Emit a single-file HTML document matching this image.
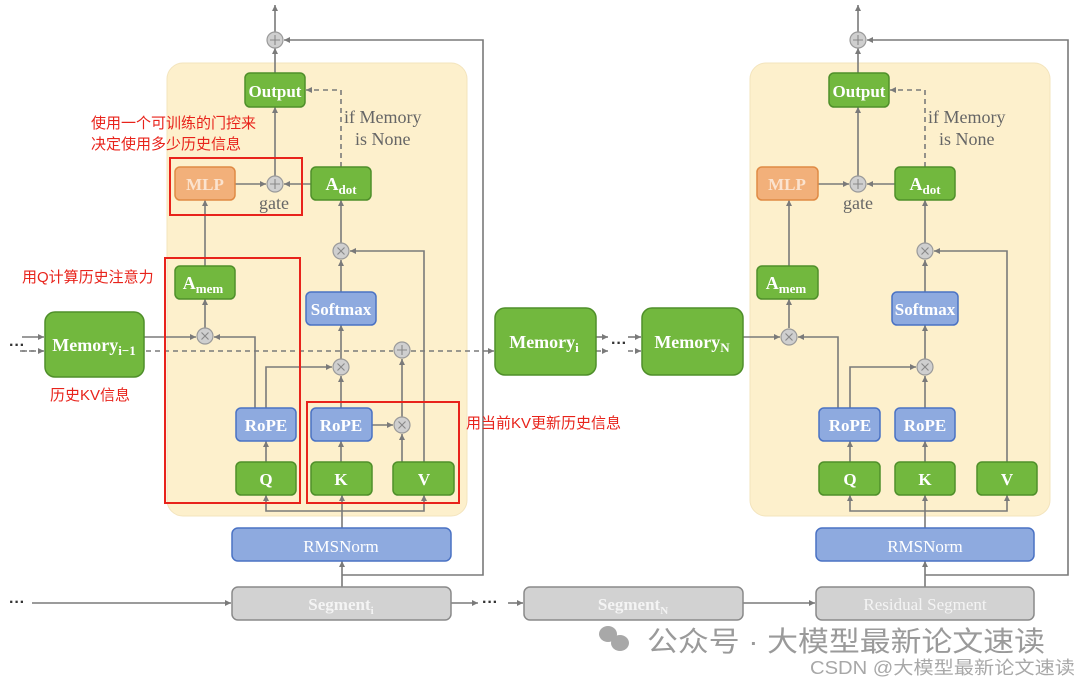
<!DOCTYPE html>
<html><head><meta charset="utf-8"><style>
body{margin:0;background:#fff}
svg{display:block}
.t{font-family:"Liberation Serif",serif;font-weight:bold;fill:#fff;text-anchor:middle}
.g{font-family:"Liberation Serif",serif;fill:#666;font-size:18px}
.r{font-family:"Liberation Sans","Noto Sans CJK SC",sans-serif;fill:#e8231b;font-size:15px}
.ln{stroke:#7a7a7a;stroke-width:1.6;fill:none}
.dl{stroke:#7a7a7a;stroke-width:1.6;fill:none;stroke-dasharray:5 4}
.op{fill:#cfcfcf;stroke:#9a9a9a;stroke-width:1.2}
.ot{stroke:#888;stroke-width:1.1}
</style></head><body>
<svg width="1080" height="685" viewBox="0 0 1080 685" xmlns="http://www.w3.org/2000/svg">
<defs>
<marker id="a" markerWidth="8" markerHeight="8" refX="6" refY="3" orient="auto" markerUnits="userSpaceOnUse"><path d="M0,0 L6,3 L0,6 z" fill="#7a7a7a"/></marker>
<g id="plus"><circle r="8" class="op"/><path d="M-5,0H5M0,-5V5" class="ot"/></g>
<g id="times"><circle r="8" class="op"/><path d="M-3.5,-3.5L3.5,3.5M3.5,-3.5L-3.5,3.5" class="ot"/></g>
</defs>

<rect x="167" y="63" width="300" height="453" rx="16" fill="#fdf0cc" stroke="#f3e4bd"/>
<rect x="750" y="63" width="300" height="453" rx="16" fill="#fdf0cc" stroke="#f3e4bd"/>

<g>
<path d="M275,32V5" class="ln" marker-end="url(#a)"/>
<path d="M275,73V48" class="ln" marker-end="url(#a)"/>
<path d="M342,575H483V40H284" class="ln" marker-end="url(#a)"/>
<path d="M275,176V107" class="ln" marker-end="url(#a)"/>
<path d="M235,184H266" class="ln" marker-end="url(#a)"/>
<path d="M311,184H284" class="ln" marker-end="url(#a)"/>
<path d="M341,167V90H306" class="dl" marker-end="url(#a)"/>
<path d="M205,266V200" class="ln" marker-end="url(#a)"/>
<path d="M205,328V299" class="ln" marker-end="url(#a)"/>
<path d="M144,337H196" class="ln" marker-end="url(#a)"/>
<path d="M255,408V337H214" class="ln" marker-end="url(#a)"/>
<path d="M266,408V367H332" class="ln" marker-end="url(#a)"/>
<path d="M341,243V200" class="ln" marker-end="url(#a)"/>
<path d="M341,292V260" class="ln" marker-end="url(#a)"/>
<path d="M424,462V251H350" class="ln" marker-end="url(#a)"/>
<path d="M341,359V325" class="ln" marker-end="url(#a)"/>
<path d="M341,408V376" class="ln" marker-end="url(#a)"/>
<path d="M372,425H393" class="ln" marker-end="url(#a)"/>
<path d="M402,417V359" class="ln" marker-end="url(#a)"/>
<path d="M402,462V434" class="ln" marker-end="url(#a)"/>
<path d="M266,462V441" class="ln" marker-end="url(#a)"/>
<path d="M341,462V441" class="ln" marker-end="url(#a)"/>
<path d="M342,528V511H266V495" class="ln" marker-end="url(#a)"/>
<path d="M342,511V495" class="ln" marker-end="url(#a)"/>
<path d="M342,511H424V495" class="ln" marker-end="url(#a)"/>
<path d="M342,587V561" class="ln" marker-end="url(#a)"/>
<path d="M20,351H393" class="dl"/>
<path d="M411,351H494" class="dl" marker-end="url(#a)"/>
<path d="M22,337H44" class="ln" marker-end="url(#a)"/>
<path d="M22,351H44" class="dl" marker-end="url(#a)"/>
<path d="M32,603H231" class="ln" marker-end="url(#a)"/>
<path d="M451,603H478" class="ln" marker-end="url(#a)"/>
<path d="M508,603H523" class="ln" marker-end="url(#a)"/>
<path d="M743,603H815" class="ln" marker-end="url(#a)"/>
<path d="M596,337H608" class="ln" marker-end="url(#a)"/>
<path d="M596,351H608" class="dl" marker-end="url(#a)"/>
<path d="M628,337H641" class="ln" marker-end="url(#a)"/>
<path d="M628,351H641" class="dl" marker-end="url(#a)"/>
</g>
<use href="#plus" x="275" y="40"/>
<use href="#plus" x="275" y="184"/>
<use href="#times" x="205" y="336"/>
<use href="#times" x="341" y="251"/>
<use href="#times" x="341" y="367"/>
<use href="#plus" x="402" y="350"/>
<use href="#times" x="402" y="425"/>

<g>
<path d="M858,32V5" class="ln" marker-end="url(#a)"/>
<path d="M858,73V48" class="ln" marker-end="url(#a)"/>
<path d="M925,575H1068V40H867" class="ln" marker-end="url(#a)"/>
<path d="M858,176V107" class="ln" marker-end="url(#a)"/>
<path d="M818,184H849" class="ln" marker-end="url(#a)"/>
<path d="M895,184H867" class="ln" marker-end="url(#a)"/>
<path d="M925,167V90H890" class="dl" marker-end="url(#a)"/>
<path d="M789,266V200" class="ln" marker-end="url(#a)"/>
<path d="M789,328V299" class="ln" marker-end="url(#a)"/>
<path d="M743,337H780" class="ln" marker-end="url(#a)"/>
<path d="M838,408V337H798" class="ln" marker-end="url(#a)"/>
<path d="M850,408V367H916" class="ln" marker-end="url(#a)"/>
<path d="M925,243V200" class="ln" marker-end="url(#a)"/>
<path d="M925,292V260" class="ln" marker-end="url(#a)"/>
<path d="M1007,462V251H934" class="ln" marker-end="url(#a)"/>
<path d="M925,359V325" class="ln" marker-end="url(#a)"/>
<path d="M925,408V376" class="ln" marker-end="url(#a)"/>
<path d="M850,462V441" class="ln" marker-end="url(#a)"/>
<path d="M925,462V441" class="ln" marker-end="url(#a)"/>
<path d="M925,528V511H850V495" class="ln" marker-end="url(#a)"/>
<path d="M925,511V495" class="ln" marker-end="url(#a)"/>
<path d="M925,511H1007V495" class="ln" marker-end="url(#a)"/>
<path d="M925,587V561" class="ln" marker-end="url(#a)"/>
</g>
<use href="#plus" x="858" y="40"/>
<use href="#plus" x="858" y="184"/>
<use href="#times" x="789" y="337"/>
<use href="#times" x="925" y="251"/>
<use href="#times" x="925" y="367"/>

<g stroke-width="1.5">
<g fill="#72b83e" stroke="#4f8f2a">
<rect x="245" y="73" width="60" height="34" rx="5"/>
<rect x="311" y="167" width="60" height="33" rx="5"/>
<rect x="175" y="266" width="60" height="33" rx="5"/>
<rect x="45" y="312" width="99" height="65" rx="10"/>
<rect x="236" y="462" width="60" height="33" rx="5"/>
<rect x="311" y="462" width="61" height="33" rx="5"/>
<rect x="393" y="462" width="61" height="33" rx="5"/>
<rect x="495" y="308" width="101" height="67" rx="10"/>
<rect x="642" y="308" width="101" height="67" rx="10"/>
<rect x="829" y="73" width="60" height="34" rx="5"/>
<rect x="895" y="167" width="60" height="33" rx="5"/>
<rect x="757" y="266" width="61" height="33" rx="5"/>
<rect x="819" y="462" width="61" height="33" rx="5"/>
<rect x="895" y="462" width="60" height="33" rx="5"/>
<rect x="977" y="462" width="60" height="33" rx="5"/>
</g>
<g fill="#f2b07a" stroke="#e08a44">
<rect x="175" y="167" width="60" height="33" rx="5"/>
<rect x="757" y="167" width="61" height="33" rx="5"/>
</g>
<g fill="#8eaadf" stroke="#4a72c4">
<rect x="306" y="292" width="70" height="33" rx="5"/>
<rect x="236" y="408" width="60" height="33" rx="5"/>
<rect x="311" y="408" width="61" height="33" rx="5"/>
<rect x="232" y="528" width="219" height="33" rx="6"/>
<rect x="892" y="292" width="66" height="33" rx="5"/>
<rect x="819" y="408" width="61" height="33" rx="5"/>
<rect x="895" y="408" width="60" height="33" rx="5"/>
<rect x="816" y="528" width="218" height="33" rx="6"/>
</g>
<g fill="#d2d2d2" stroke="#8a8a8a">
<rect x="232" y="587" width="219" height="33" rx="6"/>
<rect x="524" y="587" width="219" height="33" rx="6"/>
<rect x="816" y="587" width="218" height="33" rx="6"/>
</g>
</g>

<g class="t" font-size="17">
<text x="275" y="97">Output</text>
<text x="859" y="97">Output</text>
<text x="205" y="190" style="fill:#fbe3cf">MLP</text>
<text x="787" y="190" style="fill:#fbe3cf">MLP</text>
<text x="341" y="190" font-size="18">A<tspan font-size="13" dy="4">dot</tspan></text>
<text x="925" y="190" font-size="18">A<tspan font-size="13" dy="4">dot</tspan></text>
<text x="203" y="289" font-size="18">A<tspan font-size="13" dy="4">mem</tspan></text>
<text x="786" y="289" font-size="18">A<tspan font-size="13" dy="4">mem</tspan></text>
<text x="341" y="315">Softmax</text>
<text x="925" y="315">Softmax</text>
<text x="266" y="431">RoPE</text>
<text x="341" y="431">RoPE</text>
<text x="850" y="431">RoPE</text>
<text x="925" y="431">RoPE</text>
<text x="266" y="485">Q</text>
<text x="341" y="485">K</text>
<text x="424" y="485">V</text>
<text x="850" y="485">Q</text>
<text x="925" y="485">K</text>
<text x="1007" y="485">V</text>
<text x="341" y="552" font-weight="normal">RMSNorm</text>
<text x="925" y="552" font-weight="normal">RMSNorm</text>
<text x="341" y="610" style="fill:#f4f4f4">Segment<tspan font-size="11" dy="4">i</tspan></text>
<text x="633" y="610" style="fill:#f4f4f4">Segment<tspan font-size="11" dy="4">N</tspan></text>
<text x="925" y="610" style="fill:#f4f4f4" font-weight="normal">Residual Segment</text>
<text x="94" y="351" font-size="18">Memory<tspan font-size="13" dy="4">i−1</tspan></text>
<text x="544" y="348" font-size="18">Memory<tspan font-size="13" dy="4">i</tspan></text>
<text x="692" y="348" font-size="18">Memory<tspan font-size="13" dy="4">N</tspan></text>
</g>
<g class="g">
<text x="344" y="123">if Memory</text>
<text x="355" y="145">is None</text>
<text x="928" y="123">if Memory</text>
<text x="939" y="145">is None</text>
<text x="259" y="209">gate</text>
<text x="843" y="209">gate</text>
</g>
<g font-family="Liberation Sans,sans-serif" font-weight="bold" fill="#333" font-size="16">
<text x="9" y="350">···</text>
<text x="9" y="607">···</text>
<text x="482" y="607">···</text>
<text x="611" y="348">···</text>
</g>

<g fill="none" stroke="#e8231b" stroke-width="2">
<rect x="170" y="158" width="132" height="57"/>
<rect x="165" y="258" width="135" height="245"/>
<rect x="307" y="402" width="152" height="101"/>
</g>
<g class="r">
<text x="91" y="128">使用一个可训练的门控来</text>
<text x="91" y="149">决定使用多少历史信息</text>
<text x="22" y="282">用Q计算历史注意力</text>
<text x="50" y="400">历史KV信息</text>
<text x="466" y="428">用当前KV更新历史信息</text>
</g>

<g fill="#a8a8a8">
<ellipse cx="608" cy="634" rx="9" ry="8"/>
<ellipse cx="620" cy="643" rx="9" ry="8"/>
</g>
<text x="647" y="651" font-family="Liberation Sans,'Noto Sans CJK SC',sans-serif" font-size="28" fill="#9a9a9a" textLength="398" lengthAdjust="spacingAndGlyphs">公众号 · 大模型最新论文速读</text>
<text x="810" y="674" font-family="Liberation Sans,'Noto Sans CJK SC',sans-serif" font-size="18" fill="#a8a8a8" textLength="265" lengthAdjust="spacingAndGlyphs">CSDN @大模型最新论文速读</text>
</svg>
</body></html>
